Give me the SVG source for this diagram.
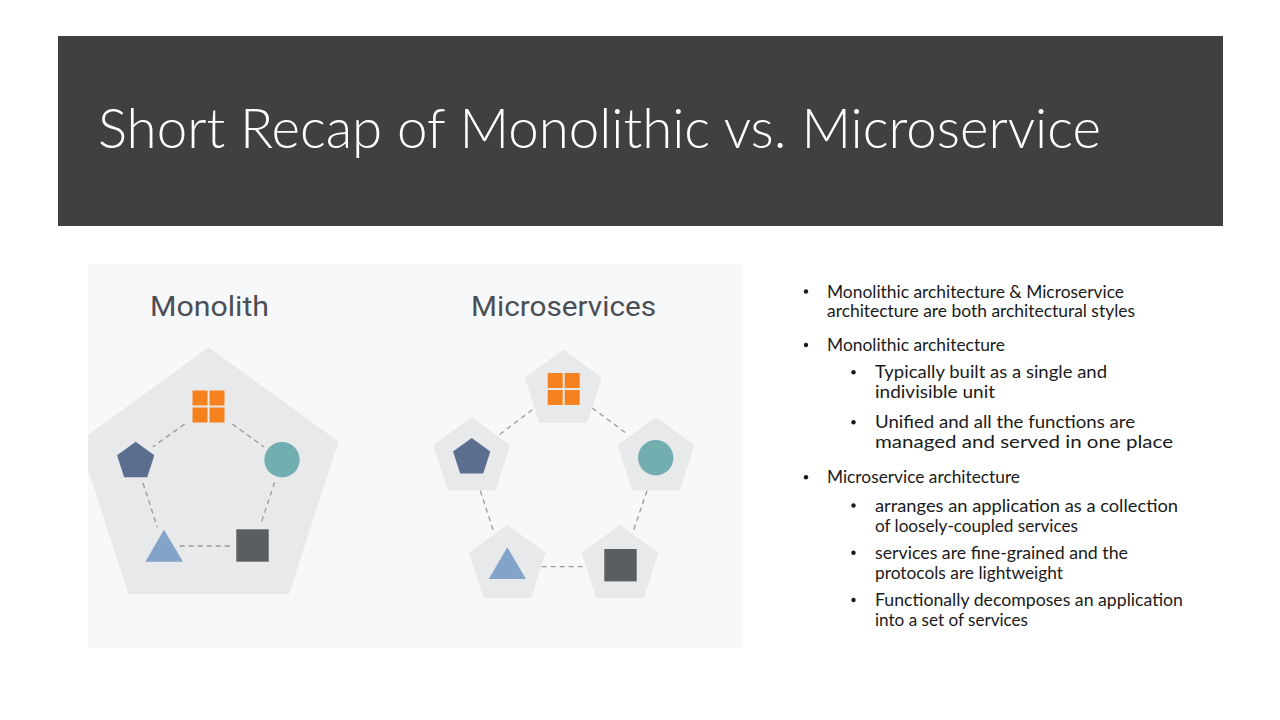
<svg xmlns="http://www.w3.org/2000/svg" xmlns:xlink="http://www.w3.org/1999/xlink" width="1280" height="720" viewBox="0 0 1280 720">
  <style>
    .title { font-family: Lato, "Liberation Sans", sans-serif; font-weight: 300; font-size: 56px; fill: #ffffff; }
    .head { font-family: Roboto, "Noto Sans", "Liberation Sans", sans-serif; font-size: 28px; fill: #4b4f55; }
    .txt { font-family: Lato, "Liberation Sans", sans-serif; font-size: 17px; fill: #1a1a1a; }
    .dot { fill: #1a1a1a; }
    .shell { fill: #e8e9eb; }
    .link { stroke: #9a9a9a; stroke-width: 1.3; stroke-dasharray: 5 4; fill: none; }
    .navy { fill: #5b6e8d; }
    .teal { fill: #72adb0; }
    .sky { fill: #84a3c9; }
    .slate { fill: #5a5e61; }
    .orange { fill: #f5821f; }
  </style>
  <defs>
    <!-- unit pentagon, point up, circumradius 1 -->
    <polygon id="pent" points="0,-1 0.9511,-0.309 0.5878,0.809 -0.5878,0.809 -0.9511,-0.309"/>
    <!-- four-pane window icon, 32 x 32 -->
    <g id="grid" class="orange">
      <rect x="0" y="0" width="15" height="15"/>
      <rect x="17" y="0" width="15" height="15"/>
      <rect x="0" y="17" width="15" height="15"/>
      <rect x="17" y="17" width="15" height="15"/>
    </g>
    <clipPath id="panelClip">
      <rect x="88" y="264" width="655" height="384"/>
    </clipPath>
  </defs>

  <rect width="1280" height="720" fill="#ffffff"/>

  <!-- title bar -->
  <g id="title">
    <rect x="58" y="36" width="1165" height="190" fill="#404040"/>
    <text class="title" x="98" y="148" textLength="1003" lengthAdjust="spacingAndGlyphs">Short Recap of Monolithic vs. Microservice</text>
  </g>

  <!-- illustration panel -->
  <g id="panel">
    <rect x="88" y="264" width="655" height="384" fill="#f7f8fa"/>
    <text class="head" x="150" y="315.5" textLength="119" lengthAdjust="spacingAndGlyphs">Monolith</text>
    <text class="head" x="471" y="315.5" textLength="185" lengthAdjust="spacingAndGlyphs">Microservices</text>
  </g>

  <!-- monolith: one big shell -->
  <g id="monolith-shell" clip-path="url(#panelClip)">
    <use href="#pent" class="shell" transform="translate(208.7 483.8) scale(136.5)"/>
  </g>

  <!-- microservices: one shell per service -->
  <g id="micro-shells">
    <use href="#pent" class="shell" transform="translate(563.3 390.2) scale(40.5)"/>
    <use href="#pent" class="shell" transform="translate(471.7 457.8) scale(40.5)"/>
    <use href="#pent" class="shell" transform="translate(656 457.8) scale(40.5)"/>
    <use href="#pent" class="shell" transform="translate(507.3 565.2) scale(40.5)"/>
    <use href="#pent" class="shell" transform="translate(620 565.2) scale(40.5)"/>
  </g>

  <!-- dashed links -->
  <g id="connectors">
    <line class="link" x1="184.7" y1="424" x2="153" y2="446.7"/>
    <line class="link" x1="232.3" y1="424" x2="263.7" y2="446.7"/>
    <line class="link" x1="143" y1="483" x2="157.3" y2="527.3"/>
    <line class="link" x1="274.7" y1="482.3" x2="260.7" y2="524"/>
    <line class="link" x1="179.7" y1="546" x2="231.3" y2="546"/>

    <line class="link" x1="532.3" y1="409.7" x2="497.3" y2="436.3"/>
    <line class="link" x1="592.3" y1="408" x2="628.3" y2="434.7"/>
    <line class="link" x1="480.3" y1="490.7" x2="493.3" y2="530.7"/>
    <line class="link" x1="647" y1="490.7" x2="632.7" y2="532.7"/>
    <line class="link" x1="541.7" y1="566.7" x2="583.3" y2="566.7"/>
  </g>

  <!-- monolith components -->
  <g id="mono-grid"><use href="#grid" transform="translate(192.5 390.5)"/></g>
  <g id="mono-pentagon"><use href="#pent" class="navy" transform="translate(135.7 461.3) scale(19.6)"/></g>
  <g id="mono-circle"><circle class="teal" cx="282" cy="459.7" r="17.7"/></g>
  <g id="mono-triangle"><polygon class="sky" points="164,529.7 183,561.7 145.3,561.7"/></g>
  <g id="mono-square"><rect class="slate" x="236.3" y="529.3" width="32.4" height="32.4"/></g>

  <!-- microservice components -->
  <g id="micro-grid"><use href="#grid" transform="translate(547.7 373)"/></g>
  <g id="micro-pentagon"><use href="#pent" class="navy" transform="translate(471.7 457.6) scale(19.6)"/></g>
  <g id="micro-circle"><circle class="teal" cx="655.7" cy="457.7" r="17.7"/></g>
  <g id="micro-triangle"><polygon class="sky" points="507.3,547.3 526,579 488.7,579"/></g>
  <g id="micro-square"><rect class="slate" x="604.3" y="549" width="32.4" height="32.4"/></g>

  <!-- bullet list -->
  <g id="bullets">
    <circle class="dot" cx="806" cy="291.5" r="2.2"/>
    <text class="txt" x="827" y="297.5" textLength="297" lengthAdjust="spacingAndGlyphs">Monolithic architecture &amp; Microservice</text>
    <text class="txt" x="827" y="316.7" textLength="308" lengthAdjust="spacingAndGlyphs">architecture are both architectural styles</text>

    <circle class="dot" cx="806" cy="345" r="2.2"/>
    <text class="txt" x="827" y="351" textLength="178" lengthAdjust="spacingAndGlyphs">Monolithic architecture</text>

    <circle class="dot" cx="853.5" cy="372.3" r="2.2"/>
    <text class="txt" x="875" y="378.3" textLength="232" lengthAdjust="spacingAndGlyphs">Typically built as a single and</text>
    <text class="txt" x="875" y="398.3" textLength="120" lengthAdjust="spacingAndGlyphs">indivisible unit</text>

    <circle class="dot" cx="853.5" cy="422.3" r="2.2"/>
    <text class="txt" x="875" y="428.3" textLength="260" lengthAdjust="spacingAndGlyphs">Unified and all the functions are</text>
    <text class="txt" x="875" y="448.3" textLength="298" lengthAdjust="spacingAndGlyphs">managed and served in one place</text>

    <circle class="dot" cx="806" cy="477.3" r="2.2"/>
    <text class="txt" x="827" y="483.3" textLength="193" lengthAdjust="spacingAndGlyphs">Microservice architecture</text>

    <circle class="dot" cx="853.5" cy="505.5" r="2.2"/>
    <text class="txt" x="875" y="511.5" textLength="303" lengthAdjust="spacingAndGlyphs">arranges an application as a collection</text>
    <text class="txt" x="875" y="531.5" textLength="203" lengthAdjust="spacingAndGlyphs">of loosely-coupled services</text>

    <circle class="dot" cx="853.5" cy="552.7" r="2.2"/>
    <text class="txt" x="875" y="558.7" textLength="253" lengthAdjust="spacingAndGlyphs">services are fine-grained and the</text>
    <text class="txt" x="875" y="578.7" textLength="188" lengthAdjust="spacingAndGlyphs">protocols are lightweight</text>

    <circle class="dot" cx="853.5" cy="600" r="2.2"/>
    <text class="txt" x="875" y="606" textLength="308" lengthAdjust="spacingAndGlyphs">Functionally decomposes an application</text>
    <text class="txt" x="875" y="626" textLength="153" lengthAdjust="spacingAndGlyphs">into a set of services</text>
  </g>
</svg>
